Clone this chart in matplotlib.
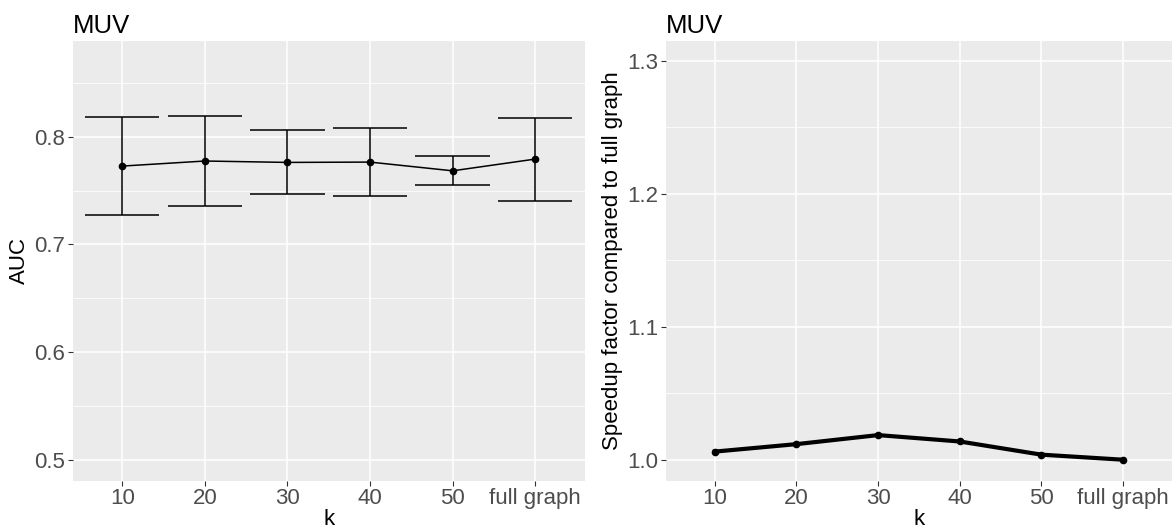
import numpy as np
import matplotlib.pyplot as plt

plt.rcParams['font.family'] = ['Liberation Sans', 'DejaVu Sans']

k_labels = ['10', '20', '30', '40', '50', 'full graph']
auc_mean = [0.7728, 0.7775, 0.7762, 0.7765, 0.7684, 0.7793]
auc_upper = [0.8180, 0.8190, 0.8060, 0.8080, 0.7821, 0.8175]
auc_lower = [0.7277, 0.7360, 0.7468, 0.7449, 0.7549, 0.7405]
speedup = [1.0061, 1.0117, 1.0185, 1.0137, 1.0038, 1.0000]

W, H = 1173, 529
fig = plt.figure(figsize=(W / 100, H / 100), dpi=100)
ax1 = fig.add_axes([72.7 / W, (H - 480.6) / H, (584.8 - 72.7) / W, (480.6 - 41) / H])
ax2 = fig.add_axes([665.8 / W, (H - 480.6) / H, (1172 - 665.8) / W, (480.6 - 41) / H])

x = np.arange(1, len(k_labels) + 1)


def style(ax, ylim, major, minor, ylabel):
    ax.set_facecolor('#EBEBEB')
    for s in ax.spines.values():
        s.set_visible(False)
    ax.set_xlim(0.4, 6.6)
    ax.set_ylim(*ylim)
    ax.set_xticks(x)
    ax.set_xticklabels(k_labels)
    ax.set_yticks(major)
    ax.set_yticks(minor, minor=True)
    ax.grid(True, which='major', color='white', lw=1.1, zorder=0)
    ax.grid(True, which='minor', axis='y', color='white', lw=0.55, zorder=0)
    ax.set_axisbelow(True)
    ax.tick_params(axis='both', which='major', length=3.5, width=0.8, color='#333333',
                   labelcolor='#4D4D4D', labelsize=16, pad=2)
    ax.tick_params(axis='y', which='minor', length=0)
    ax.set_xlabel('k', fontsize=16, labelpad=0)
    ax.set_ylabel(ylabel, fontsize=16, labelpad=3)
    ax.set_title('MUV', loc='left', fontsize=18.5, pad=6)


style(ax1, (0.4806, 0.889), [0.5, 0.6, 0.7, 0.8], [0.55, 0.65, 0.75, 0.85], 'AUC')
mean = np.array(auc_mean)
ax1.errorbar(x, mean, yerr=[mean - np.array(auc_lower), np.array(auc_upper) - mean],
             fmt='none', ecolor='black', elinewidth=1.1, capsize=0, zorder=3)
ax1.hlines(auc_upper, x - 0.45, x + 0.45, color='black', lw=1.1, zorder=3)
ax1.hlines(auc_lower, x - 0.45, x + 0.45, color='black', lw=1.1, zorder=3)
ax1.plot(x, auc_mean, color='black', lw=1.1, marker='o', ms=4.5, zorder=4)
ax1.set_yticklabels(['0.5', '0.6', '0.7', '0.8'])

style(ax2, (0.9843, 1.3147), [1.0, 1.1, 1.2, 1.3], [1.05, 1.15, 1.25],
      'Speedup factor compared to full graph')
ax2.plot(x, speedup, color='black', lw=3, marker='o', ms=4.5, zorder=4)
ax2.set_yticklabels(['1.0', '1.1', '1.2', '1.3'])

fig.savefig('out.png', dpi=100)
